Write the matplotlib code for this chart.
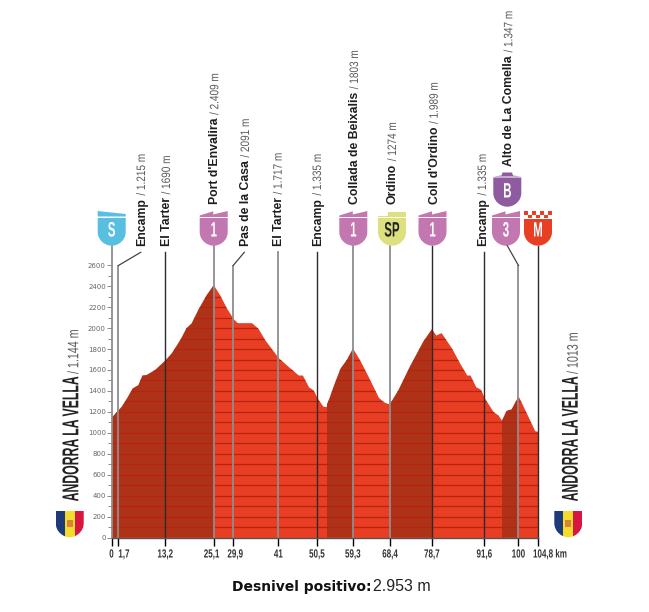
import matplotlib
matplotlib.use('Agg')
import matplotlib.pyplot as plt
from matplotlib.patches import PathPatch, Polygon, Rectangle
from matplotlib.path import Path
from matplotlib.patheffects import AbstractPathEffect
from matplotlib.transforms import Affine2D

# Elevation profile
profile_km = [0, 1.7, 2.5, 3.9, 5.2, 6.6, 7.6, 8.6, 10.7, 13.2, 14.8, 17, 18.4, 19.7, 21.3, 23.4, 25.1,
              26.6, 28.3, 29.9, 30.9, 34.4, 36, 37.7, 41, 43, 45.9, 46.9, 48.4, 49.6, 50.5, 51.9, 52.7,
              53.7, 54.7, 56.3, 57.8, 59.3, 61, 63.1, 65.6, 66.8, 67.8, 68.4, 70.5, 73.3, 76.6, 78.7,
              79.7, 81, 83.6, 85.6, 87.3, 88.1, 89.5, 90.7, 91.6, 93.8, 95, 95.9, 97.1, 98.3, 100,
              102, 104, 104.8]
profile_m = [1144, 1215, 1249, 1335, 1424, 1456, 1548, 1552, 1600, 1690, 1759, 1893, 1998, 2046, 2173, 2317, 2409,
             2317, 2189, 2091, 2052, 2052, 1998, 1887, 1717, 1648, 1552, 1552, 1440, 1408, 1335, 1256, 1249,
             1345, 1456, 1616, 1695, 1803, 1695, 1536, 1338, 1297, 1281, 1274, 1408, 1632, 1871, 1989,
             1934, 1957, 1807, 1663, 1552, 1552, 1440, 1415, 1335, 1201, 1170, 1115, 1211, 1224, 1347,
             1185, 1020, 1013]

# Climbs shaded darker
climb_start = [0, 52.9, 68.4, 96]
climb_end = [25.1, 59.3, 78.7, 100]

# Stops along the route
stop_km = [0, 1.7, 13.2, 25.1, 29.9, 41, 50.5, 59.3, 68.4, 78.7, 91.6, 100]
stop_labels = ['0', '1,7', '13,2', '25,1', '29,9', '41', '50,5', '59,3', '68,4', '78,7', '91,6', '100']
label_shift = [0, 5.5, 0, -2, 2, 0, 0, 0, 0, 0, 0, 0]
stop_dark = [False, False, True, False, False, False, True, False, False, True, True, False]
last_km = 104.8
last_label = '104,8 km'

names = ['Encamp', 'El Tarter', "Port d'Envalira", 'Pas de la Casa', 'El Tarter', 'Encamp',
         'Collada de Beixalis', 'Ordino', "Coll d'Ordino", 'Encamp', 'Alto de La Comella']
heights = ['1.215 m', '1690 m', '2.409 m', '2091 m', '1.717 m', '1.335 m',
           '1803 m', '1274 m', '1.989 m', '1.335 m', '1.347 m']
name_x = [145, 170, 218.3, 249, 281.7, 321, 358, 396, 437.7, 486, 512.3]
name_y = [246, 246, 204, 246, 246, 246, 204, 204, 204, 246, 165.7]

y_major = list(range(0, 2601, 200))
y_minor = list(range(100, 2600, 200))
bands = list(range(100, 2401, 100))

RED = '#E83E24'
DARK = '#AE3218'
LINE_RED = '#B8230F'
PINK = '#C277B0'
GREY = '#8E8E8E'
BLACK = '#2B2B2B'


class Squeeze(AbstractPathEffect):
    # narrows the glyphs along the baseline, the reference uses condensed type
    def __init__(self, sx, anchor='left'):
        super().__init__()
        self.sx = sx
        self.anchor = anchor

    def draw_path(self, renderer, gc, tpath, affine, rgbFace=None):
        ext = tpath.get_extents()
        cx = {'left': 0, 'center': (ext.x0 + ext.x1) / 2, 'right': ext.x1}[self.anchor]
        tr = Affine2D().translate(-cx, 0).scale(self.sx, 1).translate(cx, 0) + affine
        renderer.draw_path(gc, tpath, tr, rgbFace)


fig = plt.figure(figsize=(6.49, 6.12), dpi=100)
ax = fig.add_axes([111.5 / 649, (612 - 537.5) / 612, (538 - 111.5) / 649, (537.5 - 265.3) / 612])
ax.set_xlim(0, 104.8)
ax.set_ylim(0, 2600)
ax.patch.set_alpha(0)

# overlay in pixels for the labels and icons
ov = fig.add_axes([0, 0, 1, 1], zorder=5)
ov.set_xlim(0, 649)
ov.set_ylim(612, 0)
ov.axis('off')


def km_px(km):
    return 111.5 + km * (538 - 111.5) / 104.8


def px_m(py):
    return (537.5 - py) * 2600 / (537.5 - 265.3)


# profile
area = ax.fill_between(profile_km, profile_m, 0, color=RED, lw=0, zorder=1)
clip = area.get_paths()[0]
for a, b in zip(climb_start, climb_end):
    span = ax.axvspan(a, b, color=DARK, lw=0, zorder=2)
    span.set_clip_path(clip, ax.transData)
hl = ax.hlines(bands, 0, 104.8, color=LINE_RED, lw=0.9, zorder=3)
hl.set_clip_path(clip, ax.transData)

# axes
for s in ['top', 'right', 'left']:
    ax.spines[s].set_visible(False)
ax.spines['bottom'].set_color('#555555')
ax.spines['bottom'].set_linewidth(1.0)
ax.spines['bottom'].set_zorder(6)
ax.set_yticks(y_major)
ax.set_yticks(y_minor, minor=True)
ax.tick_params(axis='y', which='major', length=3.6, width=0.6, color='#777777', labelsize=5,
               labelcolor='#666666', pad=0.5)
ax.tick_params(axis='y', which='minor', length=2.6, width=0.6, color='#777777')
ax.set_xticks(stop_km + [last_km])
ax.set_xticklabels([])
ax.tick_params(axis='x', length=5.4, width=1.0)
for tick, dark in zip(ax.xaxis.get_major_ticks(), stop_dark + [True]):
    tick.tick1line.set_color(BLACK if dark else GREY)

for km, lab, dx in zip(stop_km, stop_labels, label_shift):
    ax.annotate(lab, (km, 0), xytext=(dx, -11), textcoords='offset pixels', ha='center', va='top',
                fontsize=8.5, family='Liberation Sans', weight='bold', color='#333333',
                path_effects=[Squeeze(0.68, 'center')], annotation_clip=False)
ax.annotate(last_label, (last_km, 0), xytext=(-5, -11), textcoords='offset pixels', ha='left', va='top',
            fontsize=8.5, family='Liberation Sans', weight='bold', color='#333333',
            path_effects=[Squeeze(0.68)], annotation_clip=False)

# route lines up to the names and icons
tops = {0: 245.7, 1.7: 265.5, 13.2: 252, 25.1: 245.7, 29.9: 265.5, 41: 252, 50.5: 252, 59.3: 245.7,
        68.4: 245.7, 78.7: 245.7, 91.6: 252, 100: 265.5, 104.8: 245.7}
for km, dark in zip(stop_km + [last_km], stop_dark + [True]):
    ax.plot([km, km], [0, px_m(tops[km])], color=BLACK if dark else GREY, lw=1.0 if dark else 1.3,
            clip_on=False, zorder=4)
ov.plot([km_px(1.7), 140.7], [265.5, 252.3], color='#444444', lw=0.9)
ov.plot([km_px(29.9), 244.3], [265.5, 252.3], color='#444444', lw=0.9)
ov.plot([km_px(100), 507.3], [265.5, 245.7], color='#444444', lw=0.9)

# climb and stop names: bold name then grey height on one baseline
renderer = fig.canvas.get_renderer()
for name, h, x, y in zip(names, heights, name_x, name_y):
    t = ov.text(x, y, name, rotation=90, rotation_mode='anchor', ha='left', va='baseline',
                fontsize=8.8, family='Liberation Sans', weight='bold', color='#1E1E1E')
    top_px = 612 - t.get_window_extent(renderer).y1
    ov.text(x, top_px - 2.5, '/ ' + h, rotation=90, rotation_mode='anchor', ha='left', va='baseline',
            fontsize=8.8, family='Liberation Sans', color='#5A5A5A', path_effects=[Squeeze(0.82)])


def shield(c, y, color, top=7, w=14):
    verts = [(c - w, y + top), (c + w, y + top), (c + w, y + 21),
             (c + w, y + 29), (c + 7, y + 34.7), (c, y + 34.7),
             (c - 7, y + 34.7), (c - w, y + 29), (c - w, y + 21), (c - w, y + top)]
    codes = [Path.MOVETO, Path.LINETO, Path.LINETO, Path.CURVE4, Path.CURVE4, Path.CURVE4,
             Path.CURVE4, Path.CURVE4, Path.CURVE4, Path.CLOSEPOLY]
    ov.add_patch(PathPatch(Path(verts, codes), fc=color, lw=0))


def icon_text(c, y, s, color='white', size=15):
    ov.text(c, y + 20, s, ha='center', va='center', fontsize=size, family='Liberation Sans', weight='bold',
            color=color, path_effects=[Squeeze(0.55, 'center')])


def climb_icon(c, y, s):
    shield(c, y, PINK)
    ov.add_patch(Polygon([(c - 14, y + 6), (c - 14, y + 4.5), (c - 0.5, y + 0.3), (c - 0.5, y + 3.5),
                          (c + 14, y + 0), (c + 14, y + 6)], fc=PINK, lw=0))
    icon_text(c, y, s)


# start sprint
shield(111.7, 211, '#59BFE0')
ov.add_patch(Polygon([(97.7, 211), (125.7, 214), (125.7, 216.5), (97.7, 216.5)], fc='#59BFE0', lw=0))
icon_text(111.7, 211, 'S')

climb_icon(213.7, 211, '1')
climb_icon(353.3, 211, '1')
climb_icon(432.5, 211, '1')
climb_icon(506, 211, '3')

# special sprint
shield(392, 211, '#DDE07F')
ov.add_patch(Polygon([(378, 217), (378, 216), (388, 216), (388, 212), (406, 212), (406, 217)], fc='#DDE07F', lw=0))
icon_text(392, 211, 'SP', color='#222222')

# mountain finish
shield(538, 211, RED, top=8)
for i in range(7):
    ov.add_patch(Rectangle((524 + i * 4, 211 if i % 2 == 0 else 214.5), 4, 3.5, fc=RED, lw=0))
    ov.add_patch(Rectangle((524 + i * 4, 214.5 if i % 2 == 0 else 211), 4, 3.5, fc='white', lw=0))
icon_text(538, 211, 'M')

# bonus sprint
shield(507.3, 172, '#8F5BA0', top=5.5)
ov.add_patch(Polygon([(493.3, 176.5), (501.5, 175.5), (502.5, 172.5), (512, 172.5), (513, 175.5), (521.3, 176.5)],
                     fc='#8F5BA0', lw=0))
icon_text(507.3, 172, 'B')


def flag(c):
    clip_path = Path([(c - 14, 511), (c + 14, 511), (c + 14, 523), (c + 14, 532), (c + 6, 537.3), (c, 537.3),
                      (c - 6, 537.3), (c - 14, 532), (c - 14, 523), (c - 14, 511)],
                     [Path.MOVETO, Path.LINETO, Path.LINETO, Path.CURVE4, Path.CURVE4, Path.CURVE4,
                      Path.CURVE4, Path.CURVE4, Path.CURVE4, Path.CLOSEPOLY])
    for x0, col in [(c - 14, '#1E3A78'), (c - 5, '#F4DC2C'), (c + 5, '#D9163F')]:
        r = Rectangle((x0, 511), 10 if col == '#F4DC2C' else 9, 27, fc=col, lw=0)
        ov.add_patch(r)
        r.set_clip_path(clip_path, ov.transData)
    ov.add_patch(Rectangle((c - 3, 520), 6, 7, fc='#D9823A', lw=0))


flag(69.7)
flag(568.3)

# start and finish towns, anchored at the top end of the name
for x, h in [(78.3, '1.144 m'), (577.7, '1013 m')]:
    ov.text(x, 376.7, 'ANDORRA LA VELLA', rotation=90, rotation_mode='anchor', ha='right', va='baseline',
            fontsize=16.5, family='Liberation Sans', weight='bold', color='#222222',
            path_effects=[Squeeze(0.535, 'right')])
    ov.text(x, 374, '/ ' + h, rotation=90, rotation_mode='anchor', ha='left', va='baseline',
            fontsize=11, family='Liberation Sans', color='#5A5A5A', path_effects=[Squeeze(0.7)])

# footer
ov.text(231.7, 586.7, 'Desnivel positivo:', ha='left', va='center', fontsize=10, family='DejaVu Sans',
        weight='bold', color='#111111')
ov.text(373, 586.7, '2.953 m', ha='left', va='center', fontsize=11.5, family='Liberation Sans', color='#222222')

fig.savefig('out.png', dpi=100)
